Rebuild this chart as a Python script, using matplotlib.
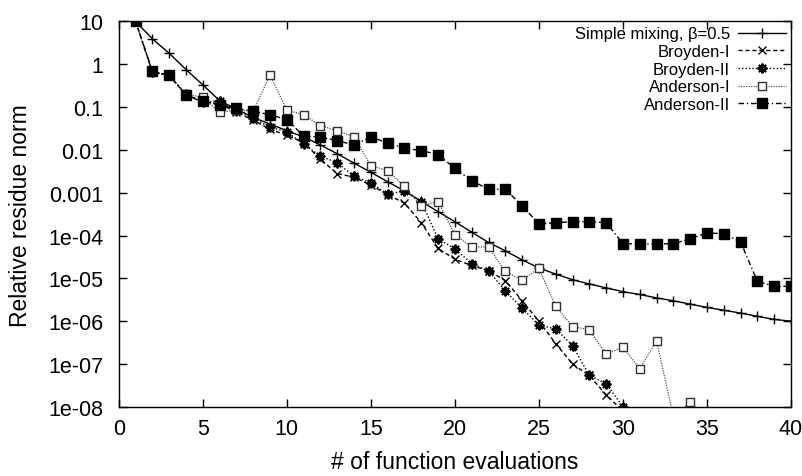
import matplotlib
matplotlib.use("Agg")
import matplotlib.pyplot as plt
import numpy as np
from matplotlib.path import Path

plt.rcParams['font.family'] = ['Liberation Sans', 'DejaVu Sans']

# iteration counts
evals = list(range(1, 41))

simple_mixing = [10, 3.9, 1.8, 0.75, 0.33, 0.14, 0.09, 0.057, 0.04, 0.028,
                 0.02, 0.013, 0.0081, 0.0049, 0.003, 0.0018, 0.0011, 0.00063, 0.00036, 0.00021,
                 0.00012, 6.9e-5, 4.4e-5, 2.7e-5, 1.75e-5, 1.26e-5, 9.3e-6, 7.4e-6, 6.0e-6, 4.9e-6,
                 4.2e-6, 3.5e-6, 3.0e-6, 2.5e-6, 2.1e-6, 1.8e-6, 1.55e-6, 1.3e-6, 1.1e-6, 1.0e-6]

broyden1 = [10, 0.65, 0.55, 0.19, 0.13, 0.12, 0.075, 0.05, 0.03, 0.022,
            0.015, 0.006, 0.0028, 0.0023, 0.0015, 0.0009, 0.00057, 0.0002, 5e-5, 2.8e-5,
            2.0e-5, 1.5e-5, 8.9e-6, 3.0e-6, 1.0e-6, 3e-7, 1e-7, 5.4e-8, 1.9e-8, 8e-9]

broyden2 = [10, 0.65, 0.55, 0.2, 0.13, 0.14, 0.08, 0.055, 0.034, 0.026,
            0.0137, 0.0071, 0.005, 0.0024, 0.0017, 0.00093, 0.0011, 0.00062, 8.4e-5, 4.9e-5,
            2.2e-5, 1.5e-5, 5.1e-6, 2.0e-6, 8.1e-7, 6.6e-7, 2.7e-7, 5.4e-8, 3.5e-8, 1e-8]

anderson1 = [10, 0.65, 0.55, 0.2, 0.17, 0.075, 0.085, 0.08, 0.56, 0.085,
             0.066, 0.037, 0.028, 0.02, 0.0043, 0.0033, 0.0014, 0.00049, 0.00062, 0.000104,
             5.4e-5, 5.4e-5, 1.45e-5, 9.1e-6, 1.7e-5, 2.25e-6, 7.5e-7, 6.3e-7, 1.7e-7, 2.5e-7,
             7.7e-8, 3.5e-7, 6e-9, 1.3e-8, 6e-9]

anderson2 = [10, 0.68, 0.56, 0.19, 0.14, 0.11, 0.093, 0.08, 0.066, 0.051,
             0.021, 0.02, 0.0165, 0.013, 0.02, 0.0145, 0.011, 0.0096, 0.0078, 0.0037,
             0.0019, 0.0012, 0.0012, 0.0005, 0.000186, 0.0002, 0.00021, 0.00021, 0.0002, 6.5e-5,
             6.3e-5, 6.3e-5, 6.5e-5, 8.3e-5, 0.000115, 0.00011, 7.2e-5, 8.5e-6, 6.5e-6, 6.5e-6]

ytick_vals = [10, 1, 0.1, 0.01, 0.001, 1e-4, 1e-5, 1e-6, 1e-7, 1e-8]
ytick_labels = ['10', '1', '0.1', '0.01', '0.001', '1e-04', '1e-05', '1e-06', '1e-07', '1e-08']
xtick_vals = [0, 5, 10, 15, 20, 25, 30, 35, 40]

# open square with a small dot in the middle (gnuplot style)
dot_square = Path([(-1, -1), (1, -1), (1, 1), (-1, 1), (-1, -1),
                   (-0.08, -0.08), (0.08, -0.08), (0.08, 0.08), (-0.08, 0.08), (-0.08, -0.08)],
                  [Path.MOVETO, Path.LINETO, Path.LINETO, Path.LINETO, Path.CLOSEPOLY,
                   Path.MOVETO, Path.LINETO, Path.LINETO, Path.LINETO, Path.CLOSEPOLY])

fig = plt.figure(figsize=(8.03, 4.77), dpi=100)
ax = fig.add_axes([0.148, 0.145, 0.837, 0.808])

ax.plot(evals[:len(simple_mixing)], simple_mixing, color='black', lw=1.0, ls='-',
        marker='+', ms=7, mew=1.0, label='Simple mixing, \u03b2=0.5')
ax.plot(evals[:len(broyden1)], broyden1, color='black', lw=1.0, ls=(0, (3, 2)),
        marker='x', ms=6, mew=1.0, label='Broyden-I')
ax.plot(evals[:len(broyden2)], broyden2, color='black', lw=1.0, ls=(0, (1, 1.5)),
        marker=(8, 2, 0), ms=7, mew=1.4, label='Broyden-II')
ax.plot(evals[:len(anderson1)], anderson1, color='#555555', lw=0.9, ls=(0, (1, 1)),
        marker=dot_square, ms=6, mew=1.0, mfc='white', mec='#333333', label='Anderson-I')
ax.plot(evals[:len(anderson2)], anderson2, color='black', lw=1.0, ls=(0, (4, 2, 1, 2)),
        marker='s', ms=7.5, mfc='black', mec='black', label='Anderson-II')

ax.set_yscale('log')
ax.set_ylim(1e-8, 10)
ax.set_xlim(0, 40)
ax.set_yticks(ytick_vals)
ax.set_yticklabels(ytick_labels)
ax.set_xticks(xtick_vals)
ax.set_xticklabels([str(v) for v in xtick_vals])
ax.yaxis.set_minor_locator(matplotlib.ticker.LogLocator(base=10, subs=np.arange(2, 10)))
ax.yaxis.set_minor_formatter(matplotlib.ticker.NullFormatter())

ax.tick_params(which='both', direction='in', top=True, right=True, labelsize=15.5)
ax.tick_params(axis='x', pad=8)
ax.tick_params(axis='y', pad=11)
ax.tick_params(which='major', length=6, width=1)
ax.tick_params(which='minor', length=3.5, width=0.8)
for s in ax.spines.values():
    s.set_linewidth(1.0)

ax.set_xlabel('# of function evaluations', fontsize=16.5, labelpad=8)
ax.set_ylabel('Relative residue norm', fontsize=16.5, labelpad=12)

ax.legend(loc='upper right', frameon=False, markerfirst=False, fontsize=12,
          handlelength=2.9, labelspacing=0.16, borderpad=0, borderaxespad=0.3,
          handletextpad=0.45)

fig.savefig('out.png', dpi=100)
